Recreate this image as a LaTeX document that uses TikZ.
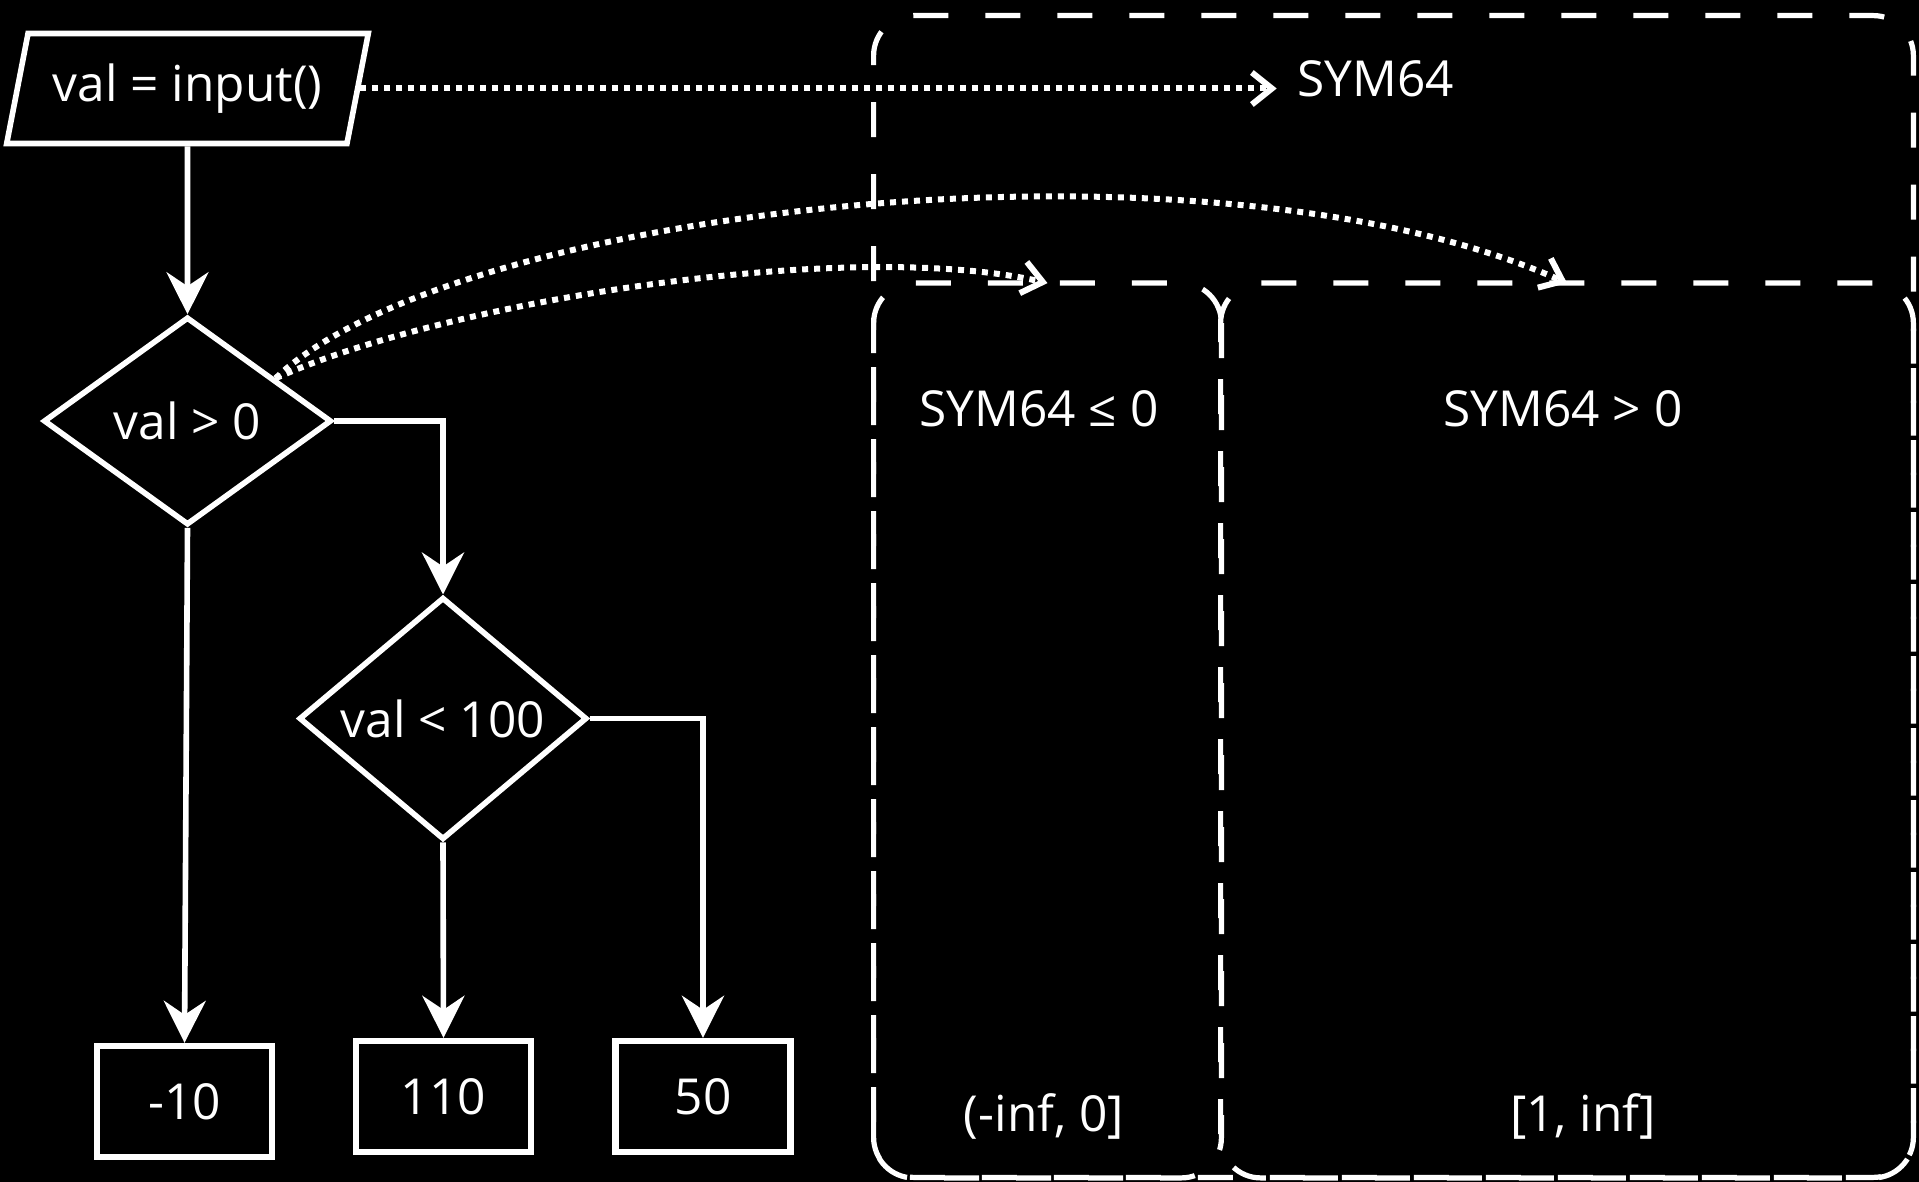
\documentclass[tikz,border=0pt]{standalone}
\usepackage{fontspec}
\setmainfont{Open Sans}
\usetikzlibrary{arrows.meta,shapes.geometric,calc}
\begin{document}
\begin{tikzpicture}[x=0.5pt,y=-0.5pt,
  every node/.style={text=white, font=\fontsize{24.8}{29}\selectfont},
  shp/.style={draw=white, line width=2.8pt, inner sep=0pt},
  flow/.style={draw=white, line width=2.8pt, -{Stealth[length=21pt,width=21pt,inset=7pt]}},
  dotflow/.style={draw=white, line width=3pt, dash pattern=on 3pt off 3pt, -{Straight Barb[length=10pt,width=16pt]}},
  region/.style={draw=white, line width=2.6pt, dash pattern=on 17.5pt off 18.5pt, rounded corners=20pt},
  regionbox/.style={rectangle, inner sep=0pt},
  outbox/.style={draw=white, line width=3.2pt, rectangle, minimum width=87.5pt, minimum height=55.5pt}]
\fill[black] (0,0) rectangle (1919,1182);
\useasboundingbox (0,0) rectangle (1919,1182);

% flowchart
\node[shp, trapezium, trapezium left angle=70, trapezium right angle=110, trapezium stretches=true, minimum width=181pt, minimum height=55pt] (inp) at (187.5,88.5) {val = input()};
\node[shp, diamond, minimum width=144pt, minimum height=104pt] (d1) at (187.5,421) {val > 0};
\node[shp, diamond, minimum width=144pt, minimum height=104pt] (d2) at (443,718.5) {val < 100};
\node[outbox] (b1) at (184.5,1101.5) {-10};
\node[outbox] (b2) at (443.5,1096.5) {110};
\node[outbox] (b3) at (703,1096.5) {50};

\draw[flow] (inp.south) -- (d1.north);
\draw[flow] (d1.east) -| (d2.north);
\draw[flow] (d1.south) -- (b1.north);
\draw[flow] (d2.south) -- (b2.north);
\draw[flow] (d2.east) -| (b3.north);

% symbolic regions
\node[regionbox, minimum width=519.5pt, minimum height=580.5pt] (all) at (1393.5,596.5) {};
\node[regionbox, minimum width=173.5pt, minimum height=447pt] (neg) at (1047.5,730.5) {};
\node[regionbox, minimum width=346pt, minimum height=447pt] (pos) at (1567,730.5) {};
\draw[region, dash phase=3.84pt] (all.south west) -- (all.north west) -- (all.north east) -- (all.south east) -- cycle;
\draw[region] (neg.north east) -- (neg.south east) -- (neg.south west) -- (neg.north west) -- cycle;
\draw[region, dash phase=8pt] (pos.north west) -- (pos.south west) -- (pos.south east) -- (pos.north east) -- cycle;

\node[anchor=base] (symlbl) at (1376,97) {SYM64};
\node[anchor=base] (neglbl) at (1039,427) {SYM64 ≤ 0};
\node[anchor=base] (poslbl) at (1563,427) {SYM64 > 0};
\node[anchor=base] (negrng) at (1044,1131) {(-inf, 0]};
\node[anchor=base] (posrng) at (1583,1131) {[1, inf]};

% dotted mappings
\draw[dotflow, shorten >=7pt] (inp.east) -- (inp.east -| symlbl.west);
\coordinate (dstart) at ($(d1.north)!0.6!(d1.east)$);
\draw[dotflow] (dstart) .. controls (450,300) and (850,238) .. (neg.north);
\draw[dotflow] (dstart) .. controls (450,210) and (1200,120) .. (pos.north);
\end{tikzpicture}
\end{document}
